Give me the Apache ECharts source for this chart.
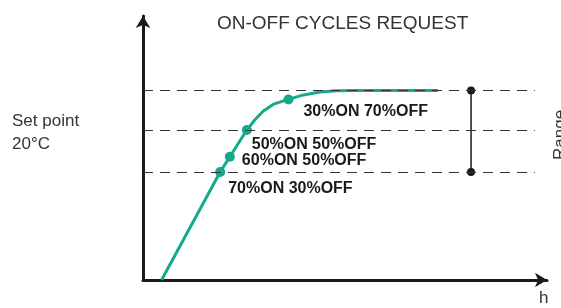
<!DOCTYPE html>
<html>
<head>
<meta charset="utf-8">
<script src="https://cdn.jsdelivr.net/npm/echarts@6/dist/echarts.min.js"></script>
<style>
  html, body { margin: 0; padding: 0; background: #fff; }
  #chart { width: 561px; height: 308px; }
</style>
</head>
<body>
<div id="chart"></div>
<script>
// temperature curve (x: time, y: temperature, arbitrary units 0..100)
const curveX = [4.6, 19.1, 21.5, 25.7, 27.7, 29.8, 32.3, 36.0, 39.7, 43.8, 48.0, 52.9, 73.0]
const curveY = [0, 40.9, 46.7, 56.8, 60.7, 64.0, 66.6, 68.4, 70.1, 71.2, 71.7, 71.8, 71.8]

// switching points and their cycle requests
const stepX = [19.1, 21.5, 25.7, 36.0]
const stepY = [40.9, 46.7, 56.8, 68.4]
const stepLabels = ['70%ON 30%OFF', '60%ON 50%OFF', '50%ON 50%OFF', '30%ON 70%OFF']
const labelOffsets = [[-2, 17], [2, 4], [-5, 15], [5, 12]]

// horizontal reference levels and the range bar
const levels = [71.8, 56.8, 40.9]
const levelEnd = 97.0
const rangeX = 81.2

const chart = echarts.init(document.getElementById('chart'), null, { renderer: 'canvas' })

const curveData = curveX.map((x, i) => [x, curveY[i]])
const stepData = stepX.map((x, i) => ({
  value: [x, stepY[i]],
  label: {
    show: true,
    formatter: stepLabels[i],
    position: 'right',
    offset: labelOffsets[i],
  },
}))

chart.setOption({
  animation: false,
  textStyle: { fontFamily: 'Liberation Sans, Arial, sans-serif' },
  title: {
    text: 'ON-OFF CYCLES REQUEST',
    left: 212,
    top: 9,
    textStyle: { fontSize: 19, fontWeight: 'normal', color: '#333' },
  },
  grid: { left: 143, right: 14, top: 16, bottom: 28 },
  xAxis: {
    type: 'value',
    min: 0,
    max: 100,
    axisLine: {
      show: true,
      symbol: ['none', 'arrow'],
      symbolSize: [11, 12],
      lineStyle: { color: '#1a1a1a', width: 3 },
    },
    axisTick: { show: false },
    axisLabel: { show: false },
    splitLine: { show: false },
  },
  yAxis: {
    type: 'value',
    min: 0,
    max: 100,
    axisLine: {
      show: true,
      symbol: ['none', 'arrow'],
      symbolSize: [11, 12],
      lineStyle: { color: '#1a1a1a', width: 3 },
    },
    axisTick: { show: false },
    axisLabel: { show: false },
    splitLine: { show: false },
  },
  graphic: [
    { type: 'text', left: 12, top: 110, style: { text: 'Set point\n20°C', fontSize: 17, lineHeight: 23, fill: '#333', fontFamily: 'Liberation Sans, Arial' } },
    { type: 'text', left: 539, top: 290, style: { text: 'h', fontSize: 17, fill: '#333', fontFamily: 'Liberation Sans, Arial' } },
    { type: 'text', x: 552, y: 160, rotation: Math.PI / 2, style: { text: 'Range', fontSize: 17, fill: '#333', fontFamily: 'Liberation Sans, Arial' } },
  ],
  series: [
    {
      type: 'line',
      data: levels.map((y) => [0, y]),
      symbol: 'none',
      lineStyle: { opacity: 0 },
      markLine: {
        silent: true,
        symbol: 'none',
        label: { show: false },
        lineStyle: { color: '#333', width: 1, type: [10, 7] },
        data: levels.map((y) => [{ coord: [0, y] }, { coord: [levelEnd, y] }]),
      },
      z: 1,
    },
    {
      type: 'line',
      data: curveData,
      smooth: false,
      symbol: 'none',
      lineStyle: { color: '#16a98a', width: 3, join: 'round' },
      z: 3,
    },
    {
      type: 'scatter',
      data: stepData,
      symbolSize: 10,
      itemStyle: { color: '#16a98a', opacity: 1 },
      label: { color: '#1a1a1a', fontSize: 16, fontWeight: 'bold', fontFamily: 'Liberation Sans, Arial' },
      z: 4,
    },
    {
      type: 'line',
      data: [[rangeX, levels[0]], [rangeX, levels[2]]],
      symbol: 'circle',
      symbolSize: 8,
      lineStyle: { color: '#1a1a1a', width: 1.5 },
      itemStyle: { color: '#1a1a1a' },
      z: 2,
    },
  ],
})
</script>
</body>
</html>
